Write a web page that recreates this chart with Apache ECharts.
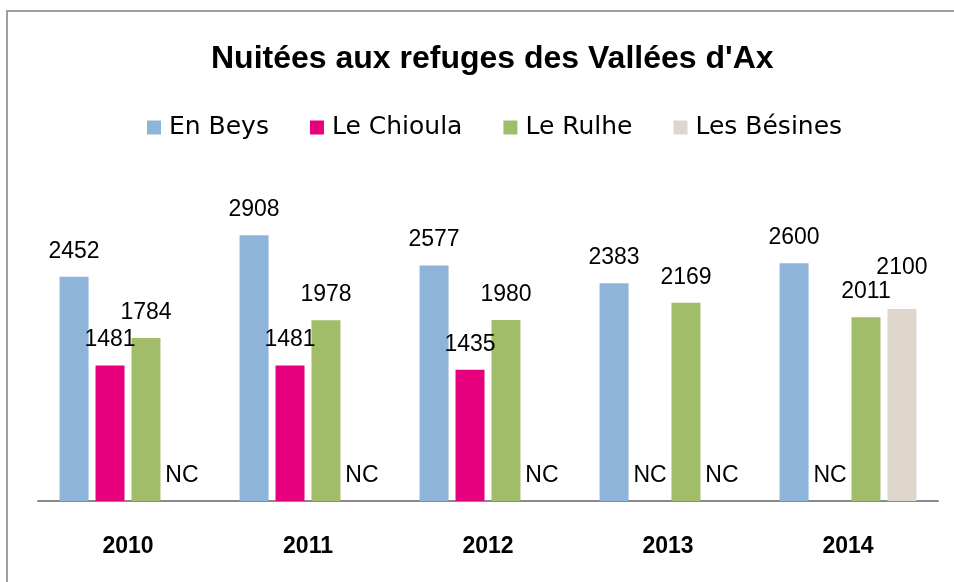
<!DOCTYPE html>
<html>
<head>
<meta charset="utf-8">
<script src="https://cdn.jsdelivr.net/npm/echarts@6/dist/echarts.min.js"></script>
<style>
  html, body { margin: 0; padding: 0; background: #ffffff; }
  #chart { width: 954px; height: 582px; }
</style>
</head>
<body>
<div id="chart"></div>
<script>
// Overnight stays per refuge and year; null = not communicated (shown as "NC")
const years = ['2010', '2011', '2012', '2013', '2014'];
const seriesNames = ['En Beys', 'Le Chioula', 'Le Rulhe', 'Les Bésines'];
const enBeys = [2452, 2908, 2577, 2383, 2600];
const leChioula = [1481, 1481, 1435, null, null];
const leRulhe = [1784, 1978, 1980, 2169, 2011];
const lesBesines = [null, null, null, null, 2100];
const colors = ['#8EB4DA', '#E6007E', '#A1BD6A', '#DED6CB'];

const labelFont = { fontFamily: 'Liberation Sans', fontSize: 23, color: '#000' };

function buildData(values, raisedIndex) {
  return values.map(function (v, i) {
    if (v === null) {
      return { value: 0, label: { formatter: 'NC' } };
    }
    if (i === raisedIndex) {
      return { value: v, label: { distance: 30 } };
    }
    return v;
  });
}

const allValues = [enBeys, leChioula, leRulhe, lesBesines];
const series = allValues.map(function (vals, k) {
  return {
    name: seriesNames[k],
    type: 'bar',
    barWidth: 29,
    barGap: '24%',
    itemStyle: { color: colors[k] },
    label: Object.assign({ show: true, position: 'top', distance: 14 }, labelFont),
    data: buildData(vals, k === 3 ? 4 : -1)
  };
});

const chart = echarts.init(document.getElementById('chart'), null, { renderer: 'canvas' });
chart.setOption({
  animation: false,
  backgroundColor: '#ffffff',
  color: colors,
  title: {
    text: "Nuitées aux refuges des Vallées d'Ax",
    left: 206,
    top: 38,
    textStyle: { fontFamily: 'Liberation Sans', fontWeight: 'bold', fontSize: 32, color: '#000' }
  },
  legend: {
    top: 110,
    left: 142,
    itemWidth: 14,
    itemHeight: 14,
    itemGap: 41,
    icon: 'rect',
    textStyle: { fontFamily: 'DejaVu Sans', fontSize: 25, color: '#000', padding: [0, 0, 0, 3] },
    data: seriesNames
  },
  grid: { left: 38, right: 16, top: 181, bottom: 81 },
  xAxis: {
    type: 'category',
    data: years,
    axisLine: { lineStyle: { color: '#898989', width: 2 } },
    axisTick: { show: false },
    axisLabel: { margin: 34, fontFamily: 'Liberation Sans', fontWeight: 'bold', fontSize: 23, color: '#000' }
  },
  yAxis: {
    type: 'value',
    min: 0,
    max: 3500,
    show: false,
    splitLine: { show: false }
  },
  graphic: [
    { type: 'line', shape: { x1: 6, y1: 11, x2: 954, y2: 11 }, style: { stroke: '#A0A0A0', lineWidth: 2 } },
    { type: 'line', shape: { x1: 7, y1: 10, x2: 7, y2: 582 }, style: { stroke: '#A0A0A0', lineWidth: 2 } }
  ],
  series: series
});
</script>
</body>
</html>
